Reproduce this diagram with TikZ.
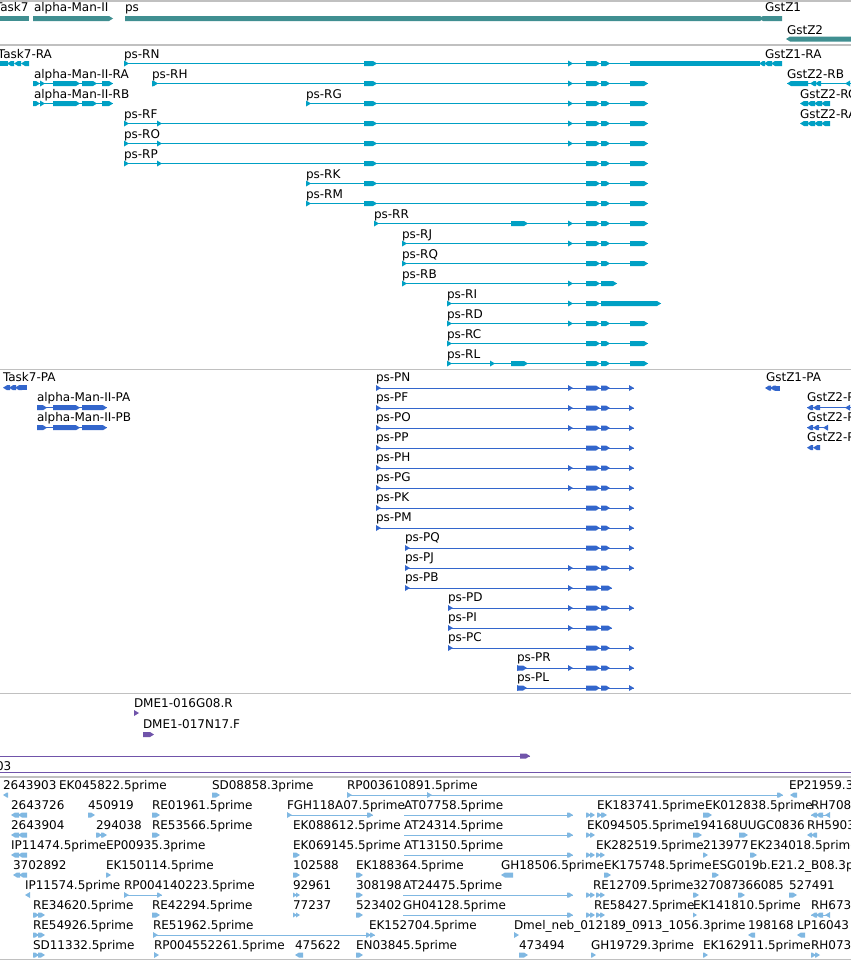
\documentclass[tikz,border=0pt]{standalone}
\usepackage{fontspec}
\setmainfont{DejaVu Sans}
\definecolor{gene}{RGB}{64,143,145}
\definecolor{tr}{RGB}{0,160,196}
\definecolor{pr}{RGB}{51,102,204}
\definecolor{dme}{RGB}{112,84,170}
\definecolor{est}{RGB}{128,184,226}
\definecolor{sep}{RGB}{192,192,192}
% right-pointing block, left-pointing block, small triangles, thin line, label
\newcommand\gX[4]{\fill[#1] (#2,#4-2.5) -- (#3-4,#4-2.5) -- (#3,#4) -- (#3-4,#4+2.5) -- (#2,#4+2.5) -- cycle;}
\newcommand\gXL[4]{\fill[#1] (#3,#4-2.5) -- (#2+4,#4-2.5) -- (#2,#4) -- (#2+4,#4+2.5) -- (#3,#4+2.5) -- cycle;}
\newcommand\gT[3]{\fill[#1] (#2,#3-3) -- (#2+5,#3) -- (#2,#3+3) -- cycle;}
\newcommand\gTL[3]{\fill[#1] (#2+5,#3-3) -- (#2,#3) -- (#2+5,#3+3) -- cycle;}
\newcommand\gL[4]{\draw[#1,line width=1pt] (#2,#4) -- (#3,#4);}
\newcommand\gN[3]{\node[lab] at (#1,#2) {#3};}
% ps transcript row: y, start, label
\newcommand\psR[3]{\gN{#2}{#1-5.5}{#3}\gL{tr}{#2}{648}{#1}\gT{tr}{#2}{#1}\gX{tr}{586}{600}{#1}\gX{tr}{601}{610}{#1}\gX{tr}{630}{648}{#1}}
% ps protein row
\newcommand\psP[3]{\gN{#2}{#1-6.5}{#3}\gL{pr}{#2}{634}{#1}\gT{pr}{#2}{#1}\gX{pr}{586}{600}{#1}\gX{pr}{601}{610}{#1}\gT{pr}{629}{#1}}
% alpha-Man-II model
\newcommand\amR[2]{\gL{#1}{33}{113}{#2}\gX{#1}{33}{40}{#2}\gT{#1}{40}{#2}\gX{#1}{53}{80}{#2}\gX{#1}{82}{97}{#2}\gX{#1}{102}{113}{#2}}
\begin{document}
\begin{tikzpicture}[x=1pt,y=-1pt,
  lab/.style={anchor=base west,inner sep=0pt,outer sep=0pt,font=\fontsize{12}{14}\selectfont,text=black}]
\useasboundingbox (0,0) rectangle (851,961);
\clip (0,0) rectangle (851,961);
\fill[white] (0,0) rectangle (851,961);
% separators
\foreach \yy in {1,45,369.5,693.5,777,959.5} \draw[sep,line width=1.2pt] (0,\yy) -- (851,\yy);
\draw[dme,line width=1.2pt] (0,772.5) -- (851,772.5);
% ---- genes
\gN{-5}{12}{Task7}
\fill[gene] (-5,16) rectangle (29,21);
\gN{34}{12}{alpha-Man-II}
\gX{gene}{33}{113}{18.5}
\gN{125}{12}{ps}
\gX{gene}{125}{764}{18.5}
\gXL{gene}{759}{782}{18.5}
\gN{765}{12}{GstZ1}
\gN{787}{34.5}{GstZ2}
\gXL{gene}{786}{851}{39}
% ---- transcripts
\gN{-2}{58}{Task7-RA}
\fill[tr] (0,61) rectangle (8,66);
\gXL{tr}{7}{14}{63.5}\gXL{tr}{14}{21}{63.5}\gXL{tr}{21}{29}{63.5}
\gN{34}{78}{alpha-Man-II-RA}\amR{tr}{83.5}
\gN{34}{98}{alpha-Man-II-RB}\amR{tr}{103.5}
% ps-RN
\gN{124}{58}{ps-RN}
\gL{tr}{124}{759}{63.5}\gT{tr}{124}{63.5}\gX{tr}{364}{377}{63.5}\gT{tr}{568}{63.5}
\gX{tr}{586}{600}{63.5}\gX{tr}{601}{610}{63.5}
\fill[tr] (630,61) rectangle (760,66);
% GstZ1-RA
\gN{765}{58}{GstZ1-RA}
\gXL{tr}{759}{765}{63.5}\gXL{tr}{764}{772}{63.5}\gXL{tr}{771}{782}{63.5}
% ps rows
\psR{83.5}{152}{ps-RH}\gX{tr}{152}{158}{83.5}\gX{tr}{364}{377}{83.5}\gT{tr}{568}{83.5}
\psR{103.5}{306}{ps-RG}\gX{tr}{364}{377}{103.5}\gT{tr}{568}{103.5}
\psR{123.5}{124}{ps-RF}\gT{tr}{157}{123.5}\gX{tr}{364}{377}{123.5}\gT{tr}{568}{123.5}
\psR{143.5}{124}{ps-RO}\gT{tr}{157}{143.5}\gX{tr}{364}{377}{143.5}\gT{tr}{568}{143.5}
\psR{163.5}{124}{ps-RP}\gT{tr}{157}{163.5}\gX{tr}{364}{377}{163.5}
\psR{183.5}{306}{ps-RK}\gX{tr}{364}{377}{183.5}
\psR{203.5}{306}{ps-RM}\gX{tr}{364}{377}{203.5}
\psR{223.5}{374}{ps-RR}\gX{tr}{511}{528}{223.5}\gT{tr}{568}{223.5}
\psR{243.5}{402}{ps-RJ}\gT{tr}{568}{243.5}
\psR{263.5}{402}{ps-RQ}
% ps-RB
\gN{402}{278}{ps-RB}\gL{tr}{402}{617}{283.5}\gT{tr}{402}{283.5}\gT{tr}{568}{283.5}\gX{tr}{586}{600}{283.5}\gX{tr}{601}{617}{283.5}
% ps-RI
\gN{447}{298}{ps-RI}\gL{tr}{447}{661}{303.5}\gT{tr}{447}{303.5}\gT{tr}{568}{303.5}\gX{tr}{586}{600}{303.5}\gX{tr}{601}{661}{303.5}
\psR{323.5}{447}{ps-RD}\gT{tr}{568}{323.5}
\psR{343.5}{447}{ps-RC}
\psR{363.5}{447}{ps-RL}\gT{tr}{490}{363.5}\gX{tr}{511}{528}{363.5}
% GstZ2 transcripts
\gN{787}{78}{GstZ2-RB}
\gL{tr}{787}{851}{83.5}\gXL{tr}{787}{808}{83.5}\gXL{tr}{810}{816}{83.5}\gXL{tr}{815}{821}{83.5}\gTL{tr}{845}{83.5}
\gN{800}{98}{GstZ2-RC}
\gXL{tr}{800}{808}{103.5}\gXL{tr}{807}{815}{103.5}\gXL{tr}{814}{822}{103.5}\gXL{tr}{821}{830}{103.5}
\gN{800}{118}{GstZ2-RA}
\gXL{tr}{800}{808}{123.5}\gXL{tr}{807}{815}{123.5}\gXL{tr}{814}{822}{123.5}\gXL{tr}{821}{830}{123.5}
% ---- proteins
\gN{3}{381.5}{Task7-PA}
\gXL{pr}{3}{10}{387.7}\gXL{pr}{9}{16}{387.7}\gXL{pr}{15}{22}{387.7}\fill[pr] (21,385.2) rectangle (27,390.2);
\gN{37}{401.5}{alpha-Man-II-PA}
\gL{pr}{37}{107}{407.7}\gX{pr}{37}{47}{407.7}\gX{pr}{53}{80}{407.7}\gX{pr}{82}{107}{407.7}
\gN{37}{421.5}{alpha-Man-II-PB}
\gL{pr}{37}{107}{427.7}\gX{pr}{37}{47}{427.7}\gX{pr}{53}{80}{427.7}\gX{pr}{82}{107}{427.7}
\gN{766}{381.5}{GstZ1-PA}
\gXL{pr}{765}{771}{388}\gXL{pr}{770}{776}{388}\fill[pr] (775,385.5) rectangle (780,390.5);
\gN{807}{401.5}{GstZ2-PA}
\gL{pr}{807}{851}{407.7}\gXL{pr}{807}{813}{407.7}\gXL{pr}{813}{820}{407.7}\gTL{pr}{845}{407.7}
\gN{807}{421.5}{GstZ2-PB}
\gL{pr}{807}{828}{427.7}\gXL{pr}{807}{813}{427.7}\gXL{pr}{813}{819}{427.7}\gTL{pr}{823}{427.7}
\gN{807}{441.5}{GstZ2-PC}
\gXL{pr}{807}{813}{447.7}\gXL{pr}{813}{820}{447.7}
\psP{388}{376}{ps-PN}\gT{pr}{568}{388}
\psP{408}{376}{ps-PF}\gT{pr}{568}{408}
\psP{428}{376}{ps-PO}\gT{pr}{568}{428}
\psP{448}{376}{ps-PP}
\psP{468}{376}{ps-PH}\gT{pr}{568}{468}
\psP{488}{376}{ps-PG}\gT{pr}{568}{488}
\psP{508}{376}{ps-PK}
\psP{528}{376}{ps-PM}
\psP{548}{405}{ps-PQ}
\psP{568}{405}{ps-PJ}\gT{pr}{568}{568}
\gN{405}{581.5}{ps-PB}\gL{pr}{405}{612}{588}\gT{pr}{405}{588}\gT{pr}{568}{588}\gX{pr}{586}{600}{588}\gX{pr}{601}{612}{588}
\psP{608}{448}{ps-PD}\gT{pr}{568}{608}
\gN{448}{621.5}{ps-PI}\gL{pr}{448}{612}{628}\gT{pr}{448}{628}\gT{pr}{568}{628}\gX{pr}{586}{600}{628}\gX{pr}{601}{612}{628}
\psP{648}{448}{ps-PC}
\psP{668}{517}{ps-PR}\gX{pr}{517}{527}{668}\gT{pr}{568}{668}
\psP{688}{517}{ps-PL}\gX{pr}{517}{527}{688}
% ---- DME
\gN{134}{707}{DME1-016G08.R}
\gT{dme}{134}{713}
\gN{143}{728.5}{DME1-017N17.F}
\gX{dme}{143}{154}{734.5}
\gL{dme}{0}{530}{756}\gX{dme}{520}{530}{756}
\gN{-4}{770}{03}
% ---- ESTs
% row 0 (bar 795)
\gN{3}{789}{2643903}\gXL{est}{3}{8}{795}
\gN{59}{789}{EK045822.5prime}
\gN{212}{789}{SD08858.3prime}\gX{est}{212}{220}{795}
\gN{347}{789}{RP003610891.5prime}\gL{est}{347}{783}{795}\gT{est}{347}{795}\gT{est}{427}{795}\gX{est}{777}{783}{795}
\gN{789}{789}{EP21959.3prime}\gXL{est}{790}{797}{795}
% row 1 (bar 815)
\gN{11}{809}{2643726}\gXL{est}{11}{19}{815}\gXL{est}{18}{27}{815}
\gN{88}{809}{450919}\gX{est}{88}{95}{815}
\gN{152}{809}{RE01961.5prime}\gX{est}{152}{160}{815}
\gN{287}{809}{FGH118A07.5prime}\gL{est}{287}{373}{815}\gT{est}{287}{815}\gX{est}{367}{373}{815}
\gN{404}{809}{AT07758.5prime}\gL{est}{404}{573}{815}\gX{est}{567}{573}{815}\gX{est}{586}{591}{815}\gX{est}{590}{595}{815}
\gN{597}{809}{EK183741.5prime}\gX{est}{597}{602}{815}\gX{est}{601}{607}{815}
\gN{705}{809}{EK012838.5prime}\gX{est}{703}{712}{815}
\gN{811}{809}{RH708}\gL{est}{811}{830}{815}\gXL{est}{811}{817}{815}\gXL{est}{816}{823}{815}\gTL{est}{825}{815}
% row 2 (bar 835)
\gN{11}{829}{2643904}\gXL{est}{11}{19}{835}\gXL{est}{18}{27}{835}
\gN{96}{829}{294038}\gX{est}{96}{102}{835}\gX{est}{101}{107}{835}
\gN{152}{829}{RE53566.5prime}\gX{est}{152}{160}{835}
\gN{293}{829}{EK088612.5prime}
\gN{404}{829}{AT24314.5prime}\gL{est}{404}{573}{835}\gX{est}{567}{573}{835}
\gN{587}{829}{EK094505.5prime}\gX{est}{586}{591}{835}\gX{est}{590}{595}{835}
\gN{693}{829}{194168}\gX{est}{693}{702}{835}
\gN{739}{829}{UUGC0836}\gX{est}{739}{748}{835}
\gN{807}{829}{RH5903}\gXL{est}{807}{812}{835}\gXL{est}{811}{817}{835}
% row 3 (bar 855)
\gN{11}{849}{IP11474.5prime}\gXL{est}{11}{19}{855}\gXL{est}{18}{27}{855}
\gN{106}{849}{EP00935.3prime}
\gN{293}{849}{EK069145.5prime}\gX{est}{293}{300}{855}
\gN{404}{849}{AT13150.5prime}\gL{est}{404}{573}{855}\gX{est}{567}{573}{855}\gX{est}{586}{591}{855}\gX{est}{590}{595}{855}\gX{est}{596}{601}{855}\gX{est}{600}{605}{855}
\gN{596}{849}{EK282519.5prime}
\gN{703}{849}{213977}\gX{est}{703}{708}{855}
\gN{750}{849}{EK234018.5prime}\gX{est}{750}{757}{855}
% row 4 (bar 875)
\gN{13}{869}{3702892}\gXL{est}{13}{20}{875}\gXL{est}{19}{27}{875}
\gN{106}{869}{EK150114.5prime}\gX{est}{106}{111}{875}
\gN{293}{869}{102588}\gX{est}{293}{300}{875}
\gN{356}{869}{EK188364.5prime}\gX{est}{356}{363}{875}
\gN{501}{869}{GH18506.5prime}\gXL{est}{501}{513}{875}
\gN{604}{869}{EK175748.5prime}\gX{est}{604}{611}{875}
\gN{712}{869}{ESG019b.E21.2\_B08.3prime}\gX{est}{712}{719}{875}
% row 5 (bar 895)
\gN{25}{889}{IP11574.5prime}\gTL{est}{25}{895}
\gN{124}{889}{RP004140223.5prime}\gL{est}{124}{162}{895}\gT{est}{124}{895}\gX{est}{157}{162}{895}
\gN{293}{889}{92961}\gX{est}{293}{297}{895}\gX{est}{296}{300}{895}
\gN{356}{889}{308198}\gX{est}{356}{363}{895}
\gN{403}{889}{AT24475.5prime}\gL{est}{403}{573}{895}\gX{est}{567}{573}{895}\gX{est}{586}{591}{895}\gX{est}{590}{595}{895}\gX{est}{596}{601}{895}\gX{est}{600}{605}{895}
\gN{593}{889}{RE12709.5prime}
\gN{693}{889}{327087}\gX{est}{693}{699}{895}
\gN{738}{889}{366085}\gX{est}{738}{745}{895}
\gN{789}{889}{527491}\gX{est}{789}{797}{895}
% row 6 (bar 915)
\gN{33}{909}{RE34620.5prime}\gX{est}{33}{39}{915}\gX{est}{38}{45}{915}
\gN{152}{909}{RE42294.5prime}\gX{est}{152}{160}{915}
\gN{293}{909}{77237}\gX{est}{293}{297}{915}\gX{est}{296}{300}{915}
\gN{356}{909}{523402}\gX{est}{356}{363}{915}
\gN{403}{909}{GH04128.5prime}\gL{est}{403}{573}{915}\gX{est}{567}{573}{915}\gX{est}{586}{591}{915}\gX{est}{590}{595}{915}\gX{est}{596}{601}{915}\gX{est}{600}{605}{915}
\gN{594}{909}{RE58427.5prime}
\gN{693}{909}{EK141810.5prime}\gX{est}{693}{697}{915}
\gN{811}{909}{RH673}\gL{est}{811}{830}{915}\gXL{est}{811}{817}{915}\gXL{est}{816}{823}{915}\gTL{est}{825}{915}
% row 7 (bar 935)
\gN{33}{929}{RE54926.5prime}\gX{est}{33}{39}{935}\gX{est}{38}{45}{935}
\gN{153}{929}{RE51962.5prime}\gL{est}{153}{375}{935}\gT{est}{153}{935}\gX{est}{366}{371}{935}\gX{est}{370}{375}{935}
\gN{369}{929}{EK152704.5prime}
\gN{514}{929}{Dmel\_neb\_012189\_0913\_1056.3prime}\gT{est}{514}{935}
\gN{748}{929}{198168}\gXL{est}{748}{755}{935}
\gN{797}{929}{LP16043}\gXL{est}{797}{805}{935}
% row 8 (bar 955)
\gN{33}{949}{SD11332.5prime}\gX{est}{33}{39}{955}\gX{est}{38}{45}{955}
\gN{154}{949}{RP004552261.5prime}\gT{est}{154}{955}
\gN{295}{949}{475622}\gXL{est}{295}{303}{955}
\gN{356}{949}{EN03845.5prime}\gX{est}{356}{363}{955}
\gN{519}{949}{473494}\gX{est}{519}{528}{955}
\gN{591}{949}{GH19729.3prime}\gX{est}{591}{596}{955}
\gN{703}{949}{EK162911.5prime}\gX{est}{703}{708}{955}
\gN{811}{949}{RH073}\gX{est}{811}{816}{955}\gX{est}{815}{820}{955}
\end{tikzpicture}
\end{document}
